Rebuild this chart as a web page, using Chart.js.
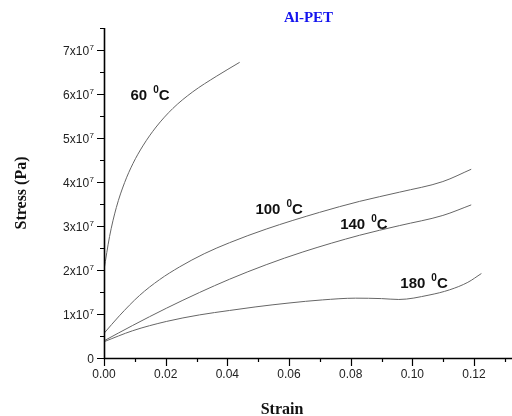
<!DOCTYPE html>
<html><head><meta charset="utf-8">
<script src="https://cdn.jsdelivr.net/npm/chart.js@4/dist/chart.umd.min.js"></script>
<style>html,body{margin:0;padding:0;background:#fff}</style>
</head><body>
<canvas id="c" width="512" height="416"></canvas>
<script>
// ---- data (strain, stress in Pa) ----
const strain60  = [0, 0.0018, 0.004, 0.0067, 0.0094, 0.0126, 0.0169, 0.0223, 0.0288, 0.0364, 0.044];
const stress60  = [2.00e7, 2.76e7, 3.42e7, 3.99e7, 4.42e7, 4.82e7, 5.25e7, 5.67e7, 6.05e7, 6.40e7, 6.72e7];
const strain100 = [0, 0.005, 0.0115, 0.018, 0.0245, 0.0325, 0.0407, 0.0526, 0.0699, 0.0829, 0.0959, 0.1099, 0.1191];
const stress100 = [0.56e7, 0.96e7, 1.42e7, 1.78e7, 2.07e7, 2.37e7, 2.62e7, 2.93e7, 3.31e7, 3.56e7, 3.77e7, 4.01e7, 4.29e7];
const strain140 = [0, 0.0093, 0.0202, 0.031, 0.0407, 0.0526, 0.0645, 0.0829, 0.0959, 0.1099, 0.1191];
const stress140 = [0.39e7, 0.74e7, 1.13e7, 1.49e7, 1.79e7, 2.12e7, 2.41e7, 2.79e7, 3.01e7, 3.24e7, 3.48e7];
const strain180 = [0, 0.0093, 0.0202, 0.031, 0.0407, 0.049, 0.06, 0.0708, 0.0816, 0.09, 0.0956, 0.1054, 0.1121, 0.118, 0.1224];
const stress180 = [0.37e7, 0.62e7, 0.83e7, 0.98e7, 1.08e7, 1.16e7, 1.25e7, 1.32e7, 1.36e7, 1.35e7, 1.33e7, 1.43e7, 1.55e7, 1.72e7, 1.92e7];

const xTicks = [0, 0.02, 0.04, 0.06, 0.08, 0.10, 0.12];
const xTickLabels = ['0.00', '0.02', '0.04', '0.06', '0.08', '0.10', '0.12'];
const xMinorTicks = [0.01, 0.03, 0.05, 0.07, 0.09, 0.11, 0.13];
const yTicks = [0, 1e7, 2e7, 3e7, 4e7, 5e7, 6e7, 7e7];
const yTickLabels = ['0', '1x10^7', '2x10^7', '3x10^7', '4x10^7', '5x10^7', '6x10^7', '7x10^7'];
const yMinorTicks = [0.5e7, 1.5e7, 2.5e7, 3.5e7, 4.5e7, 5.5e7, 6.5e7, 7.5e7];

const curveLabels = ['60 ^0C', '100 ^0C', '140 ^0C', '180 ^0C'];
const curveLabelStrain = [0.0086, 0.0491, 0.0766, 0.0961];
const curveLabelStress = [5.86e7, 3.28e7, 2.94e7, 1.58e7];

const chartTitle = 'Al-PET';
const xTitle = 'Strain';
const yTitle = 'Stress (Pa)';

function pts(xs, ys) { return xs.map((x, i) => ({ x: x, y: ys[i] })); }
function ds(xs, ys) {
  return { data: pts(xs, ys), showLine: true, borderColor: '#666666', borderWidth: 1,
           pointRadius: 0, cubicInterpolationMode: 'monotone', fill: false };
}

const SANS = '"Liberation Sans", Arial, sans-serif';
const SERIF = '"Liberation Serif", "Times New Roman", serif';

const decor = {
  id: 'decor',
  afterDraw(chart) {
    const ctx = chart.ctx, a = chart.chartArea;
    const xs = chart.scales.x, ys = chart.scales.y;
    ctx.save();
    // axes
    ctx.strokeStyle = '#000'; ctx.lineWidth = 1.6;
    ctx.beginPath();
    ctx.moveTo(a.left + 0.5, a.top); ctx.lineTo(a.left + 0.5, a.bottom + 0.5);
    ctx.lineTo(a.right + 1, a.bottom + 0.5);
    ctx.stroke();
    ctx.lineWidth = 1.2;
    ctx.beginPath();
    yTicks.forEach(v => { const y = Math.round(ys.getPixelForValue(v)) + 0.5; ctx.moveTo(a.left, y); ctx.lineTo(a.left - 7, y); });
    yMinorTicks.forEach(v => { const y = Math.round(ys.getPixelForValue(v)) + 0.5; ctx.moveTo(a.left, y); ctx.lineTo(a.left - 4, y); });
    xTicks.forEach(v => { const x = Math.round(xs.getPixelForValue(v)) + 0.5; ctx.moveTo(x, a.bottom); ctx.lineTo(x, a.bottom + 8); });
    xMinorTicks.forEach(v => { const x = Math.round(xs.getPixelForValue(v)) + 0.5; ctx.moveTo(x, a.bottom); ctx.lineTo(x, a.bottom + 4); });
    ctx.stroke();

    // y tick labels with superscript
    ctx.fillStyle = '#222';
    ctx.textBaseline = 'alphabetic';
    yTickLabels.forEach((lab, i) => {
      const y = ys.getPixelForValue(yTicks[i]);
      const parts = lab.split('^');
      ctx.font = '12px ' + SANS;
      const w1 = ctx.measureText(parts[0]).width;
      let w2 = 0;
      if (parts[1]) { ctx.font = '8px ' + SANS; w2 = ctx.measureText(parts[1]).width + 0.5; }
      const right = a.left - 10;
      const x0 = right - w1 - w2;
      ctx.font = '12px ' + SANS; ctx.textAlign = 'left';
      ctx.fillText(parts[0], x0, y + 4.5);
      if (parts[1]) { ctx.font = '8px ' + SANS; ctx.fillText(parts[1], x0 + w1 + 0.5, y); }
    });
    // x tick labels
    ctx.font = '12px ' + SANS; ctx.textAlign = 'center'; ctx.textBaseline = 'middle';
    xTickLabels.forEach((lab, i) => ctx.fillText(lab, xs.getPixelForValue(xTicks[i]), a.bottom + 17));

    // curve labels
    ctx.fillStyle = '#111'; ctx.textAlign = 'left'; ctx.textBaseline = 'alphabetic';
    curveLabels.forEach((lab, i) => {
      const x = xs.getPixelForValue(curveLabelStrain[i]);
      const y = ys.getPixelForValue(curveLabelStress[i]);
      const m = lab.match(/^(\S+) \^(\S)(\S+)$/);
      ctx.font = 'bold 15px ' + SANS;
      ctx.fillText(m[1], x, y);
      let cx = x + ctx.measureText(m[1]).width + 6;
      ctx.font = 'bold 10px ' + SANS;
      ctx.fillText(m[2], cx, y - 7);
      cx += ctx.measureText(m[2]).width;
      ctx.font = 'bold 15px ' + SANS;
      ctx.fillText(m[3], cx, y);
    });

    // titles
    ctx.textAlign = 'center'; ctx.textBaseline = 'middle';
    ctx.fillStyle = '#1414ee'; ctx.font = 'bold 15px ' + SERIF;
    ctx.fillText(chartTitle, (a.left + a.right) / 2 + 1, 18);
    ctx.fillStyle = '#111'; ctx.font = 'bold 16px ' + SERIF;
    ctx.fillText(xTitle, 282, 410);
    ctx.translate(22, (a.top + a.bottom) / 2);
    ctx.rotate(-Math.PI / 2);
    ctx.fillText(yTitle, 0, 0);
    ctx.restore();
  }
};

new Chart(document.getElementById('c'), {
  type: 'scatter',
  data: { datasets: [ds(strain60, stress60), ds(strain100, stress100), ds(strain140, stress140), ds(strain180, stress180)] },
  options: {
    responsive: false, animation: false, devicePixelRatio: 1,
    layout: { padding: { left: 104, top: 28, right: 1, bottom: 58 } },
    plugins: { legend: { display: false }, tooltip: { enabled: false } },
    scales: {
      x: { type: 'linear', min: 0, max: 0.132, display: false },
      y: { type: 'linear', min: 0, max: 7.5e7, display: false }
    }
  },
  plugins: [decor]
});
</script>
</body></html>
